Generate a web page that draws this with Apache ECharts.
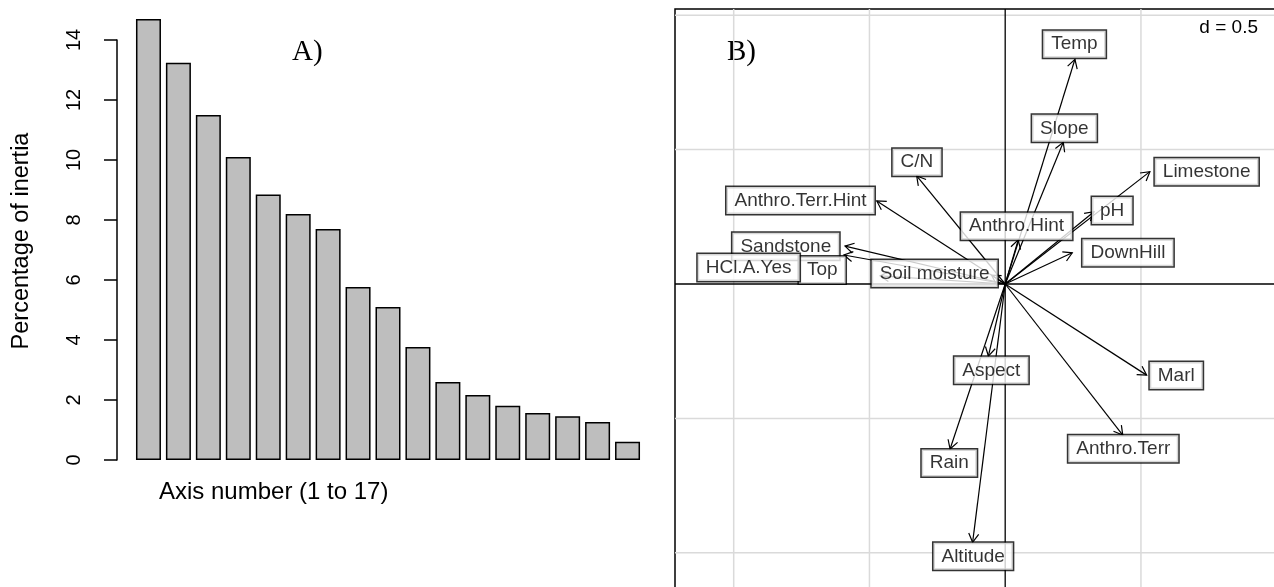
<!DOCTYPE html>
<html>
<head>
<meta charset="utf-8">
<script src="https://cdn.jsdelivr.net/npm/echarts@6/dist/echarts.min.js"></script>
<style>
html,body{margin:0;padding:0;background:#fff;}
#chart{width:1274px;height:587px;}
</style>
</head>
<body>
<div id="chart"></div>
<script>
// ---------- Panel A: eigenvalue bar chart ----------
const categories = ['1','2','3','4','5','6','7','8','9','10','11','12','13','14','15','16','17'];
const inertia = [14.7, 13.24, 11.5, 10.1, 8.85, 8.2, 7.7, 5.77, 5.1, 3.77, 2.6, 2.17, 1.81, 1.57, 1.46, 1.27, 0.61];

// ---------- Panel B: correlation arrows ----------
const varNames = ['Temp','Slope','Limestone','pH','DownHill','Anthro.Hint','C/N','Anthro.Terr.Hint','Sandstone','Top','HCl.A.Yes','Soil moisture','Aspect','Rain','Altitude','Marl','Anthro.Terr'];
const arrowX = [0.257, 0.214, 0.533, 0.327, 0.247, 0.048, -0.326, -0.473, -0.590, -0.461, -0.594, -0.050, -0.062, -0.203, -0.120, 0.521, 0.433];
const arrowY = [0.836, 0.527, 0.418, 0.269, 0.116, 0.164, 0.402, 0.309, 0.141, 0.030, 0.108, 0.033, -0.268, -0.614, -0.961, -0.339, -0.562];
const labelX = [0.255, 0.218, 0.742, 0.394, 0.452, 0.042, -0.325, -0.754, -0.808, -0.674, -0.945, -0.260, -0.051, -0.206, -0.118, 0.630, 0.435];
const labelY = [0.892, 0.579, 0.418, 0.273, 0.116, 0.215, 0.453, 0.311, 0.140, 0.052, 0.061, 0.039, -0.321, -0.666, -1.013, -0.340, -0.613];
const gridXs = [-1, -0.5, 0.5];
const gridYs = [1, 0.5, -0.5, -1];
const scaleNote = 'd = 0.5';

const SANS = 'Liberation Sans';
const SERIF = 'Liberation Serif';

const chart = echarts.init(document.getElementById('chart'), null, {renderer: 'canvas'});

function vLine(params, api) {
  const cs = params.coordSys;
  const p = api.coord([api.value(0), 0]);
  return {type: 'line', shape: {x1: p[0], y1: cs.y, x2: p[0], y2: cs.y + cs.height},
    style: {stroke: '#DADADA', lineWidth: 1.5}};
}
function hLine(params, api) {
  const cs = params.coordSys;
  const p = api.coord([0, api.value(1)]);
  return {type: 'line', shape: {x1: cs.x, y1: p[1], x2: cs.x + cs.width, y2: p[1]},
    style: {stroke: '#DADADA', lineWidth: 1.5}};
}
function crossLines(params, api) {
  const cs = params.coordSys;
  const p = api.coord([api.value(0), api.value(1)]);
  return {type: 'group', children: [
    {type: 'line', shape: {x1: p[0], y1: cs.y, x2: p[0], y2: cs.y + cs.height}, style: {stroke: '#000', lineWidth: 1.3}},
    {type: 'line', shape: {x1: cs.x, y1: p[1], x2: cs.x + cs.width, y2: p[1]}, style: {stroke: '#000', lineWidth: 1.3}}
  ]};
}
function arrow(params, api) {
  const p0 = api.coord([0, 0]);
  const p1 = api.coord([api.value(0), api.value(1)]);
  const ang = Math.atan2(p1[1] - p0[1], p1[0] - p0[0]);
  const L = 10, a = Math.PI / 6;
  const h1 = [p1[0] - L * Math.cos(ang - a), p1[1] - L * Math.sin(ang - a)];
  const h2 = [p1[0] - L * Math.cos(ang + a), p1[1] - L * Math.sin(ang + a)];
  return {type: 'group', children: [
    {type: 'line', shape: {x1: p0[0], y1: p0[1], x2: p1[0], y2: p1[1]}, style: {stroke: '#000', lineWidth: 1.2}},
    {type: 'polyline', shape: {points: [h1, p1, h2]}, style: {stroke: '#000', lineWidth: 1.2, fill: null}}
  ]};
}

const labelData = varNames.map((n, i) => ({name: n, value: [labelX[i], labelY[i]]}));
const labelCommon = {
  show: true, position: 'inside', formatter: '{b}',
  fontFamily: SANS, fontSize: 19, lineHeight: 21, padding: [3, 8]
};

const option = {
  animation: false,
  backgroundColor: '#fff',
  grid: [
    {left: 133.5, top: 40, width: 509, height: 420, containLabel: false, outerBoundsMode: 'none'},
    {left: 675, top: 9, width: 605, height: 586, containLabel: false, outerBoundsMode: 'none',
      show: true, borderColor: '#000', borderWidth: 1.5, backgroundColor: 'rgba(0,0,0,0)'}
  ],
  xAxis: [
    {gridIndex: 0, type: 'category', data: categories, show: false, boundaryGap: true},
    {gridIndex: 1, type: 'value', min: -1.2162, max: 1.0122, show: false}
  ],
  yAxis: [
    {gridIndex: 0, type: 'value', min: 0, max: 14, interval: 2, offset: 16.5,
      axisLine: {show: true, lineStyle: {color: '#000', width: 1.5}},
      axisTick: {show: true, length: 13, lineStyle: {color: '#000', width: 1.5}},
      axisLabel: {rotate: 90, margin: 33, color: '#000', fontFamily: SANS, fontSize: 20},
      splitLine: {show: false}},
    {gridIndex: 1, type: 'value', min: -1.157, max: 1.0231, show: false}
  ],
  graphic: [
    {type: 'text', x: 22, y: 241, rotation: Math.PI / 2,
      style: {text: 'Percentage of inertia', fontFamily: SANS, fontSize: 23.5, fill: '#000', align: 'center', verticalAlign: 'middle'}},
    {type: 'text', x: 159, y: 492,
      style: {text: 'Axis number (1 to 17)', fontFamily: SANS, fontSize: 24, fill: '#000', align: 'left', verticalAlign: 'middle'}},
    {type: 'text', x: 292, y: 52,
      style: {text: 'A)', fontFamily: SERIF, fontSize: 29, fill: '#000', align: 'left', verticalAlign: 'middle'}},
    {type: 'text', x: 727, y: 52,
      style: {text: 'B)', fontFamily: SERIF, fontSize: 29, fill: '#000', align: 'left', verticalAlign: 'middle'}},
    {type: 'text', x: 1258, y: 28, z: 10,
      style: {text: scaleNote, fontFamily: SANS, fontSize: 19, fill: '#000', align: 'right', verticalAlign: 'middle'}}
  ],
  series: [
    {type: 'bar', xAxisIndex: 0, yAxisIndex: 0, data: inertia, barWidth: 25, clip: false,
      itemStyle: {color: '#BEBEBE', borderColor: '#000', borderWidth: 1.5}, silent: true},
    {type: 'custom', xAxisIndex: 1, yAxisIndex: 1, z: 1, silent: true,
      data: gridXs.map(v => [v, 0]), renderItem: vLine},
    {type: 'custom', xAxisIndex: 1, yAxisIndex: 1, z: 1, silent: true,
      data: gridYs.map(v => [0, v]), renderItem: hLine},
    {type: 'custom', xAxisIndex: 1, yAxisIndex: 1, z: 2, silent: true,
      data: [[0, 0]], renderItem: crossLines},
    {type: 'custom', xAxisIndex: 1, yAxisIndex: 1, z: 3, silent: true,
      data: varNames.map((n, i) => [arrowX[i], arrowY[i]]), renderItem: arrow},
    {type: 'scatter', xAxisIndex: 1, yAxisIndex: 1, z: 4, silent: true, symbolSize: 1,
      itemStyle: {color: 'rgba(0,0,0,0)'}, data: labelData,
      label: Object.assign({}, labelCommon, {color: 'rgba(0,0,0,0)', backgroundColor: '#fff', borderColor: '#000', borderWidth: 1.5})},
    {type: 'scatter', xAxisIndex: 1, yAxisIndex: 1, z: 5, silent: true, symbolSize: 1,
      itemStyle: {color: 'rgba(0,0,0,0)'}, data: labelData,
      label: Object.assign({}, labelCommon, {color: '#000'})}
  ]
};
chart.setOption(option);
</script>
</body>
</html>
